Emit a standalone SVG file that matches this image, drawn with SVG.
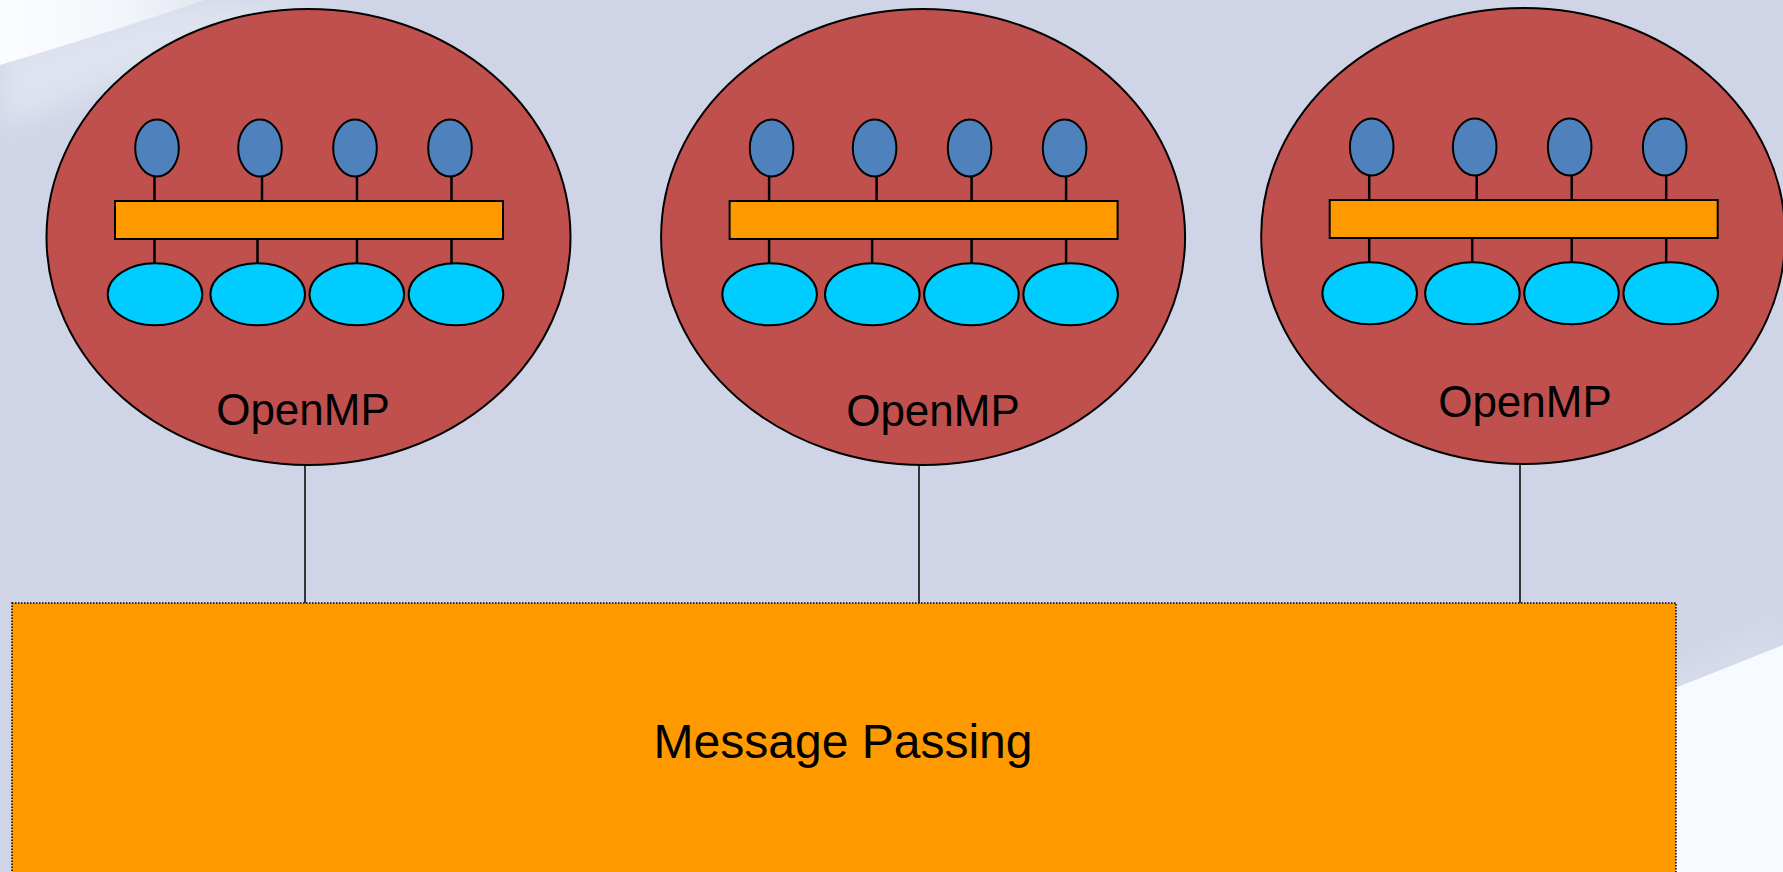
<svg xmlns="http://www.w3.org/2000/svg" width="1783" height="872" viewBox="0 0 1783 872">
<defs>
<style>
.big{fill:#C0504D;stroke:#000;stroke-width:2}
.cpu{fill:#4F81BD;stroke:#000;stroke-width:2}
.mem{fill:#00CCFF;stroke:#000;stroke-width:2}
.bus{fill:#FF9900;stroke:#000;stroke-width:2}
.tick{stroke:#000;stroke-width:2.5;fill:none}
.conn{stroke:#000;stroke-width:1.5;fill:none}
.lbl{font-family:"Liberation Sans",Arial,sans-serif;font-size:44px;fill:#000;text-anchor:middle}
.mp{font-family:"Liberation Sans",Arial,sans-serif;font-size:48px;fill:#000;text-anchor:middle}
</style>
<linearGradient id="tl" x1="0" y1="0" x2="1" y2="0">
<stop offset="0" stop-color="#FCFDFF"/>
<stop offset="0.6" stop-color="#F2F5FA"/>
<stop offset="1" stop-color="#E3E7F1"/>
</linearGradient>
<filter id="soft" x="-30%" y="-30%" width="160%" height="160%"><feGaussianBlur stdDeviation="14"/></filter>
<g id="node">
<ellipse class="big" cx="193.5" cy="36" rx="262" ry="228"/>
<line class="tick" x1="39.5" y1="-24" x2="39.5" y2="0"/>
<line class="tick" x1="147" y1="-24" x2="147" y2="0"/>
<line class="tick" x1="242" y1="-24" x2="242" y2="0"/>
<line class="tick" x1="336.5" y1="-24" x2="336.5" y2="0"/>
<line class="tick" x1="39.5" y1="38" x2="39.5" y2="62"/>
<line class="tick" x1="142.5" y1="38" x2="142.5" y2="62"/>
<line class="tick" x1="242" y1="38" x2="242" y2="62"/>
<line class="tick" x1="336.5" y1="38" x2="336.5" y2="62"/>
<ellipse class="cpu" cx="42" cy="-53" rx="21.8" ry="28.5"/>
<ellipse class="cpu" cx="145" cy="-53" rx="21.8" ry="28.5"/>
<ellipse class="cpu" cx="240" cy="-53" rx="21.8" ry="28.5"/>
<ellipse class="cpu" cx="335" cy="-53" rx="21.8" ry="28.5"/>
<rect class="bus" x="0" y="0" width="388" height="38"/>
<ellipse class="mem" cx="40" cy="93.3" rx="47.3" ry="31"/>
<ellipse class="mem" cx="142.7" cy="93.3" rx="47.3" ry="31"/>
<ellipse class="mem" cx="241.8" cy="93.3" rx="47.3" ry="31"/>
<ellipse class="mem" cx="341" cy="93.3" rx="47.3" ry="31"/>
</g>
</defs>
<g id="background">
<rect x="0" y="0" width="1783" height="872" fill="#CFD5E7"/>
<path d="M0 50 L0 130 Q150 70 340 0 L170 0 Z" fill="#DEE3EF" filter="url(#soft)"/>
<path d="M0 0 L205 0 Q110 32 0 65 Z" fill="url(#tl)"/>
<path d="M1580 715 Q1680 670 1783 625 L1783 650 Q1680 695 1600 735 Z" fill="#D9DEEC" filter="url(#soft)"/>
<path d="M1560 734 Q1670 690 1783 645 L1783 872 L1560 872 Z" fill="#F7FAFE"/>
</g>
<g id="connectors">
<line class="conn" x1="305" y1="465" x2="305" y2="603"/>
<line class="conn" x1="919" y1="465" x2="919" y2="603"/>
<line class="conn" x1="1520" y1="464" x2="1520" y2="603"/>
</g>
<g id="message-passing">
<rect x="12" y="603" width="1664" height="300" fill="#FF9900" stroke="#000" stroke-width="1.5" stroke-dasharray="1.5 1.5"/>
<text class="mp" x="843" y="758">Message Passing</text>
</g>
<g id="openmp-1">
<use href="#node" transform="translate(115,201)"/>
<text class="lbl" x="303" y="424.5">OpenMP</text>
</g>
<g id="openmp-2">
<use href="#node" transform="translate(729.6,201)"/>
<text class="lbl" x="933" y="425.5">OpenMP</text>
</g>
<g id="openmp-3">
<use href="#node" transform="translate(1329.7,200)"/>
<text class="lbl" x="1525" y="417">OpenMP</text>
</g>
</svg>
